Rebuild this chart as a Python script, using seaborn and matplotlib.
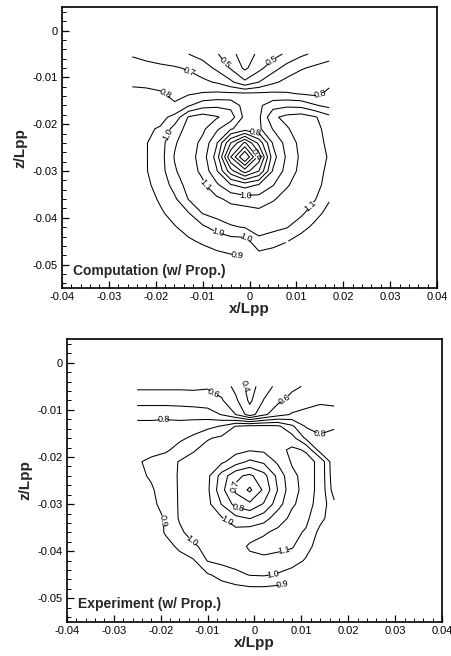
import numpy as np
import matplotlib
matplotlib.use("Agg")
import matplotlib.pyplot as plt
from matplotlib.ticker import AutoMinorLocator
import seaborn as sns

nan = float("nan")

# grid of the measurement / computation plane (x/Lpp, z/Lpp)
x_grid = [-0.025, -0.022, -0.019, -0.016, -0.013, -0.010, -0.007, -0.004,
          -0.001, 0.002, 0.005, 0.008, 0.011, 0.014, 0.017]
z_grid = [-0.005, -0.008, -0.011, -0.0135, -0.016, -0.0185, -0.021, -0.024,
          -0.027, -0.030, -0.033, -0.036, -0.039, -0.042, -0.045, -0.048]

# axial velocity (Computation)
comp_field = [
    [0.69, 0.67, 0.65, 0.63, 0.60, 0.56, 0.51, 0.43, 0.35, 0.42, 0.46, 0.52, 0.58, 0.62, 0.66],
    [0.74, 0.73, 0.72, 0.71, 0.69, 0.65, 0.58, 0.49, 0.38, 0.47, 0.56, 0.64, 0.69, 0.72, 0.74],
    [0.78, 0.78, 0.77, 0.76, 0.74, 0.72, 0.69, 0.62, 0.52, 0.60, 0.68, 0.73, 0.76, 0.77, 0.78],
    [0.83, 0.82, 0.81, 0.78, 0.79, 0.81, 0.82, 0.82, 0.82, 0.82, 0.82, 0.81, 0.795, 0.78, 0.82],
    [0.86, 0.85, 0.84, 0.81, 0.89, 0.96, 0.98, 0.97, 0.86, 0.88, 0.96, 0.98, 0.97, 0.91, 0.87],
    [0.86, 0.875, 0.87, 0.93, 1.11, 1.15, 1.11, 1.05, 0.87, 0.88, 1.08, 1.13, 1.15, 1.11, 1.03],
    [0.86, 0.885, 0.91, 1.04, 1.14, 1.12, 1.02, 0.91, 0.85, 0.88, 1.005, 1.09, 1.15, 1.14, 1.05],
    [0.86, 0.895, 0.955, 1.09, 1.15, 1.075, 0.91, 0.60, 0.38, 0.63, 0.91, 1.04, 1.13, 1.15, 1.07],
    [0.86, 0.895, 0.96, 1.105, 1.15, 1.05, 0.86, 0.40, 0.08, 0.44, 0.86, 1.02, 1.12, 1.15, 1.09],
    [0.86, 0.895, 0.955, 1.09, 1.15, 1.075, 0.91, 0.64, 0.45, 0.60, 0.91, 1.04, 1.13, 1.15, 1.07],
    [0.86, 0.885, 0.93, 1.04, 1.14, 1.12, 1.02, 0.91, 0.86, 0.91, 0.995, 1.09, 1.15, 1.14, 1.05],
    [nan, 0.87, 0.91, 0.98, 1.105, 1.15, 1.12, 1.075, 1.05, 1.04, 1.09, 1.14, 1.15, 1.105, 1.01],
    [nan, 0.86, 0.89, 0.925, 0.995, 1.105, 1.14, 1.15, 1.15, 1.13, 1.15, 1.15, 1.12, 1.04, 0.96],
    [nan, nan, 0.87, 0.895, 0.925, 0.98, 1.04, 1.09, 1.105, 1.15, 1.13, 1.105, 1.04, 0.97, nan],
    [nan, nan, nan, 0.87, 0.89, 0.91, 0.93, 0.955, 0.96, 1.07, 1.04, 1.005, 0.95, nan, nan],
    [nan, nan, nan, nan, 0.86, 0.87, 0.885, 0.895, 0.905, 0.97, 0.955, nan, nan, nan, nan],
]

# axial velocity (Experiment)
exp_field = [
    [0.58, 0.58, 0.58, 0.58, 0.58, 0.59, 0.56, 0.47, 0.36, 0.45, 0.53, 0.58, 0.61, 0.63, 0.66],
    [0.66, 0.66, 0.66, 0.66, 0.65, 0.64, 0.61, 0.52, 0.38, 0.505, 0.58, 0.63, 0.66, 0.68, 0.68],
    [0.77, 0.77, 0.77, 0.76, 0.76, 0.75, 0.695, 0.60, 0.45, 0.58, 0.66, 0.71, 0.73, 0.75, 0.73],
    [0.83, 0.83, 0.84, 0.84, 0.85, 0.87, 0.91, 1.005, 1.03, 1.03, 1.02, 0.92, 0.79, 0.78, 0.79],
    [0.86, 0.86, 0.87, 0.88, 0.92, 0.99, 1.02, 1.04, 1.05, 1.05, 1.06, 1.04, 0.88, 0.81, 0.83],
    [0.87, 0.87, 0.88, 0.94, 0.99, 1.04, 1.05, 1.03, 1.01, 1.02, 1.07, 1.12, 1.09, 0.85, 0.84],
    [0.89, 0.92, 0.96, 1.005, 1.04, 1.05, 1.02, 0.95, 0.88, 0.92, 1.02, 1.11, 1.13, 1.08, 0.82],
    [0.88, 0.91, 0.95, 1.01, 1.05, 1.025, 0.86, 0.72, 0.68, 0.765, 0.93, 1.08, 1.13, 1.08, 0.83],
    [0.86, 0.89, 0.94, 1.01, 1.05, 1.02, 0.83, 0.68, 0.58, 0.72, 0.905, 1.07, 1.13, 1.08, 0.85],
    [0.85, 0.88, 0.93, 1.01, 1.05, 1.03, 0.895, 0.765, 0.72, 0.81, 0.955, 1.09, 1.13, 1.07, 0.92],
    [0.84, 0.87, 0.905, 1.01, 1.05, 1.06, 1.01, 0.93, 0.895, 0.955, 1.06, 1.12, 1.12, 1.03, 0.94],
    [nan, 0.86, 0.905, 0.98, 1.04, 1.06, 1.06, 1.04, 1.07, 1.09, 1.12, 1.125, 1.09, 0.97, 0.95],
    [nan, 0.86, 0.88, 0.91, 0.985, 1.03, 1.05, 1.07, 1.11, 1.13, 1.12, 1.11, 1.03, 0.96, 0.95],
    [nan, nan, 0.86, 0.88, 0.89, 1.005, 1.03, 1.05, 1.08, 1.08, 1.07, 1.04, 0.99, 0.94, nan],
    [nan, nan, nan, 0.85, 0.86, 0.89, 0.93, 0.97, 1.005, 1.01, 0.99, 0.96, 0.94, nan, nan],
    [nan, nan, nan, nan, 0.84, 0.85, 0.86, 0.87, 0.88, 0.88, 0.87, nan, nan, nan, nan],
]

comp_levels = [0.2, 0.3, 0.4, 0.5, 0.6, 0.7, 0.8, 0.9, 1.0, 1.1]
exp_levels = [0.4, 0.5, 0.6, 0.7, 0.8, 0.9, 1.0, 1.1]

# where the contour labels sit
comp_label_xy = [(-0.0048, -0.0064), (0.0044, -0.0057), (-0.013, -0.0096),
                 (-0.0183, -0.0142), (0.0150, -0.0136), (-0.0173, -0.0223),
                 (0.0012, -0.0213), (-0.0095, -0.033), (0.0115, -0.0351),
                 (-0.0009, -0.0358), (-0.007, -0.0443), (-0.0006, -0.044),
                 (-0.0027, -0.0475), (0.0012, -0.0268)]
exp_label_xy = [(-0.0087, -0.0065), (-0.0027, -0.0051), (0.0062, -0.0072),
                (-0.0194, -0.0128), (0.014, -0.0159), (-0.0038, -0.0265),
                (-0.0034, -0.030), (-0.0059, -0.0335), (-0.019, -0.0335),
                (-0.013, -0.0374), (0.0062, -0.0398), (0.004, -0.0444),
                (0.0069, -0.0465)]

x_ticks = [-0.04, -0.03, -0.02, -0.01, 0.0, 0.01, 0.02, 0.03, 0.04]
x_tick_text = ["-0.04", "-0.03", "-0.02", "-0.01", "0", "0.01", "0.02", "0.03", "0.04"]
z_ticks = [0.0, -0.01, -0.02, -0.03, -0.04, -0.05]
z_tick_text = ["0", "-0.01", "-0.02", "-0.03", "-0.04", "-0.05"]
panel_titles = ["Computation (w/ Prop.)", "Experiment (w/ Prop.)"]

sns.set_style("ticks", {"xtick.direction": "in", "ytick.direction": "in",
                        "axes.edgecolor": "black"})
plt.rcParams["font.family"] = ["Liberation Sans", "DejaVu Sans"]

fig = plt.figure(figsize=(4.52, 6.56), dpi=100)
ax_top = fig.add_axes([0.137, 0.561, 0.830, 0.428])
ax_bot = fig.add_axes([0.148, 0.052, 0.830, 0.431])

X, Z = np.meshgrid(np.array(x_grid), np.array(z_grid))

panels = [
    (ax_top, comp_field, comp_levels, comp_label_xy, panel_titles[0], 0.035),
    (ax_bot, exp_field, exp_levels, exp_label_xy, panel_titles[1], 0.04),
]

for ax, field, levels, label_xy, title, ty in panels:
    V = np.ma.masked_invalid(np.array(field, dtype=float))
    cs = ax.contour(X, Z, V, levels=levels, colors="black", linewidths=0.75)
    ax.clabel(cs, levels=levels, manual=label_xy, fmt="%.1f", fontsize=6.5,
              inline=True, inline_spacing=1)
    ax.set_xlim(-0.04, 0.04)
    ax.set_ylim(-0.055, 0.005)
    ax.set_xticks(x_ticks, x_tick_text)
    ax.set_yticks(z_ticks, z_tick_text)
    ax.xaxis.set_minor_locator(AutoMinorLocator(5))
    ax.yaxis.set_minor_locator(AutoMinorLocator(5))
    ax.tick_params(which="both", direction="in", top=False, right=False,
                   labelsize=8, colors="black", pad=3)
    ax.tick_params(which="major", length=5, width=0.9)
    ax.tick_params(which="minor", length=3, width=0.7)
    for sp in ax.spines.values():
        sp.set_visible(True)
        sp.set_linewidth(1.2)
        sp.set_color("black")
    ax.set_xlabel("x/Lpp", fontsize=11, fontweight="bold", labelpad=0)
    ax.set_ylabel("z/Lpp", fontsize=11, fontweight="bold", labelpad=4)
    ax.text(0.03, ty, title, transform=ax.transAxes, fontsize=10,
            fontweight="bold", ha="left", va="bottom")
    ax.set_facecolor("white")

fig.savefig("out.png", dpi=100, facecolor="white")
